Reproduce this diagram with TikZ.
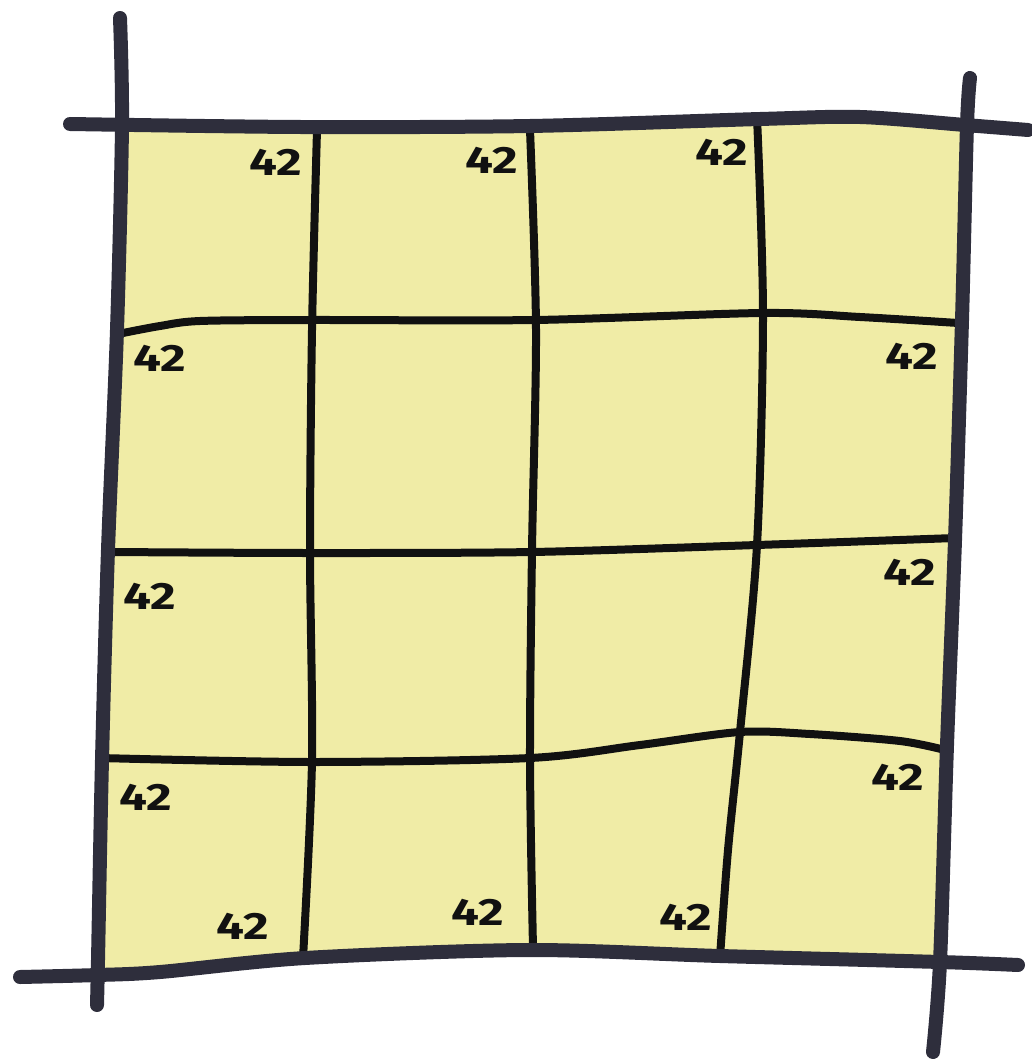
\documentclass[tikz,border=0pt]{standalone}
\usepackage{fontspec}
\setsansfont{Fira Sans}
\definecolor{paper}{HTML}{F0ECA6}
\definecolor{outerink}{HTML}{2E2E3C}
\definecolor{innerink}{HTML}{111111}
\begin{document}
\begin{tikzpicture}[x=1pt,y=-1pt,
  outerline/.style={draw=outerink,line width=14pt,line cap=round,line join=round},
  innerline/.style={draw=innerink,line width=8pt,line cap=round,line join=round},
  numlabel/.style={font=\sffamily\bfseries\fontsize{38}{38}\selectfont,text=innerink,inner sep=0pt,xscale=1.3,transform shape}]
\useasboundingbox (0,0) rectangle (1032,1059);
% yellow sheet
\fill[paper] plot[smooth] coordinates {(121,125) (300,127) (530,126) (760,119) (860,117) (967,125)}
  -- plot[smooth] coordinates {(967,125) (962,320) (955,540) (947,745) (940,962)}
  -- plot[smooth] coordinates {(940,962) (720,956) (527,950) (305,958) (160,972) (98,975)}
  -- plot[smooth] coordinates {(98,975) (102,760) (108,550) (117,330) (121,125)} -- cycle;
% inner grid lines
\draw[innerline] plot[smooth] coordinates {(317,130) (312,330) (310,550) (312,760) (303,958)};
\draw[innerline] plot[smooth] coordinates {(530,130) (536,330) (532,550) (530,760) (533,948)};
\draw[innerline] plot[smooth] coordinates {(757,117) (763,315) (757,545) (740,732) (728,850) (720,957)};
\draw[innerline] plot[smooth] coordinates {(123,333) (160,326) (200,321) (310,320) (535,320) (763,313) (860,317) (958,323)};
\draw[innerline] plot[smooth] coordinates {(112,552) (310,553) (532,552) (757,545) (955,538)};
\draw[innerline] plot[smooth] coordinates {(100,758) (312,762) (530,758) (640,745) (740,732) (810,734) (900,741) (945,750)};
% outer border lines
\draw[outerline] plot[smooth] coordinates {(120,18) (122,125) (117,330) (108,550) (102,760) (98,960) (97,1005)};
\draw[outerline] plot[smooth] coordinates {(970,78) (967,125) (962,320) (955,540) (947,745) (940,962) (933,1052)};
\draw[outerline] plot[smooth] coordinates {(70,124) (300,127) (530,126) (760,119) (860,117) (965,125) (1028,130)};
\draw[outerline] plot[smooth] coordinates {(20,977) (98,975) (160,972) (305,958) (527,950) (720,956) (940,962) (1018,965)};
% labels
\node[numlabel] (t1) at (276,162) {42};
\node[numlabel] (t2) at (492,160) {42};
\node[numlabel] (t3) at (722,152) {42};
\node[numlabel] (l1) at (160,358) {42};
\node[numlabel] (l2) at (150,596) {42};
\node[numlabel] (l3) at (146,797) {42};
\node[numlabel] (r1) at (912,356) {42};
\node[numlabel] (r2) at (910,572) {42};
\node[numlabel] (r3) at (898,777) {42};
\node[numlabel] (b1) at (243,926) {42};
\node[numlabel] (b2) at (478,912) {42};
\node[numlabel] (b3) at (686,917) {42};
\end{tikzpicture}
\end{document}
